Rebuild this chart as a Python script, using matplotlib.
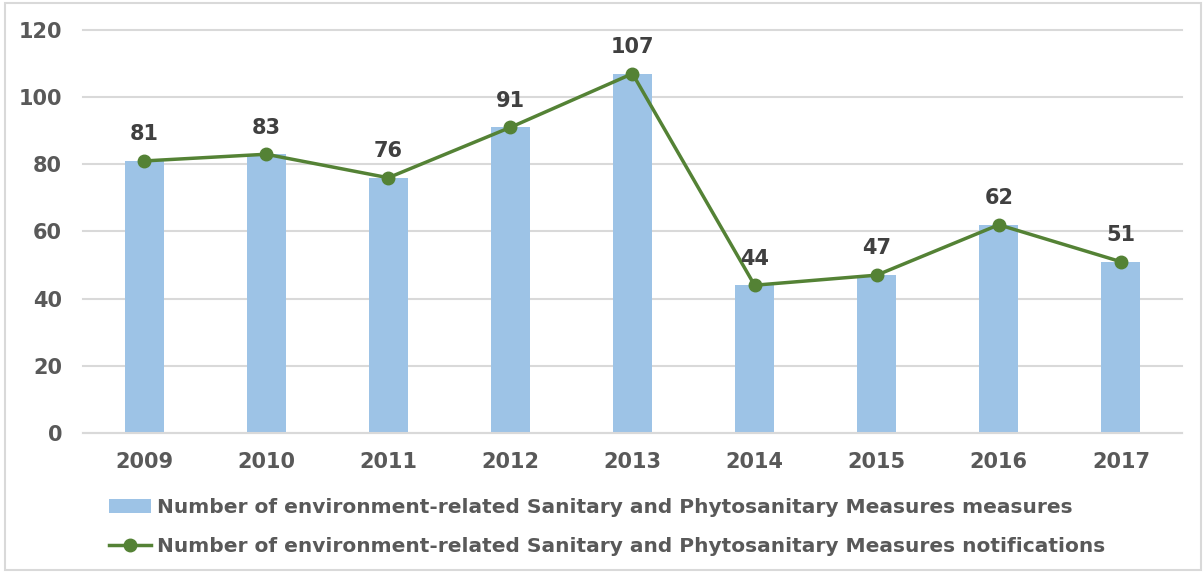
import matplotlib.pyplot as plt
from matplotlib.patches import Rectangle

years = ['2009', '2010', '2011', '2012', '2013', '2014', '2015', '2016', '2017']
measures = [81, 83, 76, 91, 107, 44, 47, 62, 51]
notifications = [81, 83, 76, 91, 107, 44, 47, 62, 51]

label_bar = 'Number of environment-related Sanitary and Phytosanitary Measures measures'
label_line = 'Number of environment-related Sanitary and Phytosanitary Measures notifications'

bar_color = '#9DC3E6'
line_color = '#548235'
text_gray = '#595959'

fig = plt.figure(figsize=(12.03, 5.72), dpi=100)
ax = fig.add_axes([0.069, 0.243, 0.9135, 0.7046])

x = range(len(years))
bars = ax.bar(x, measures, width=0.32, color=bar_color, label=label_bar, zorder=2)
line, = ax.plot(x, notifications, color=line_color, lw=2.5, marker='o', markersize=9,
                label=label_line, zorder=3)

for i, v in enumerate(notifications):
    ax.annotate(str(v), (i, v), xytext=(0, 12), textcoords='offset points',
                ha='center', va='bottom', fontsize=15, fontweight='bold',
                color='#404040')

ax.set_xlim(-0.5, len(years) - 0.5)
ax.set_ylim(0, 120)
ax.set_yticks(range(0, 121, 20))
ax.set_xticks(list(x))
ax.set_xticklabels(years)
ax.tick_params(axis='both', length=0, labelsize=15, labelcolor=text_gray)
ax.tick_params(axis='y', pad=15)
ax.tick_params(axis='x', pad=14)
for lab in ax.get_xticklabels() + ax.get_yticklabels():
    lab.set_fontweight('bold')

ax.grid(axis='y', color='#D9D9D9', lw=1.5, zorder=0)
for gl in ax.get_ygridlines():
    gl.set_clip_on(False)
for s in ['top', 'right', 'left']:
    ax.spines[s].set_visible(False)
ax.spines['bottom'].set_color('#D9D9D9')
ax.spines['bottom'].set_linewidth(1.5)

fig.legend([bars, line], [label_bar, label_line], loc='upper left',
           bbox_to_anchor=(0.0905, 0.13), frameon=False,
           prop={'size': 14.5, 'weight': 'bold'}, labelcolor=text_gray,
           handlelength=2.1, handletextpad=0.3, labelspacing=1.0,
           borderaxespad=0, borderpad=0)

fig.patches.append(Rectangle((0.004, 0.004), 0.994, 0.99, transform=fig.transFigure,
                             fill=False, edgecolor='#D9D9D9', lw=1.5))

fig.savefig('out.png', dpi=100)
